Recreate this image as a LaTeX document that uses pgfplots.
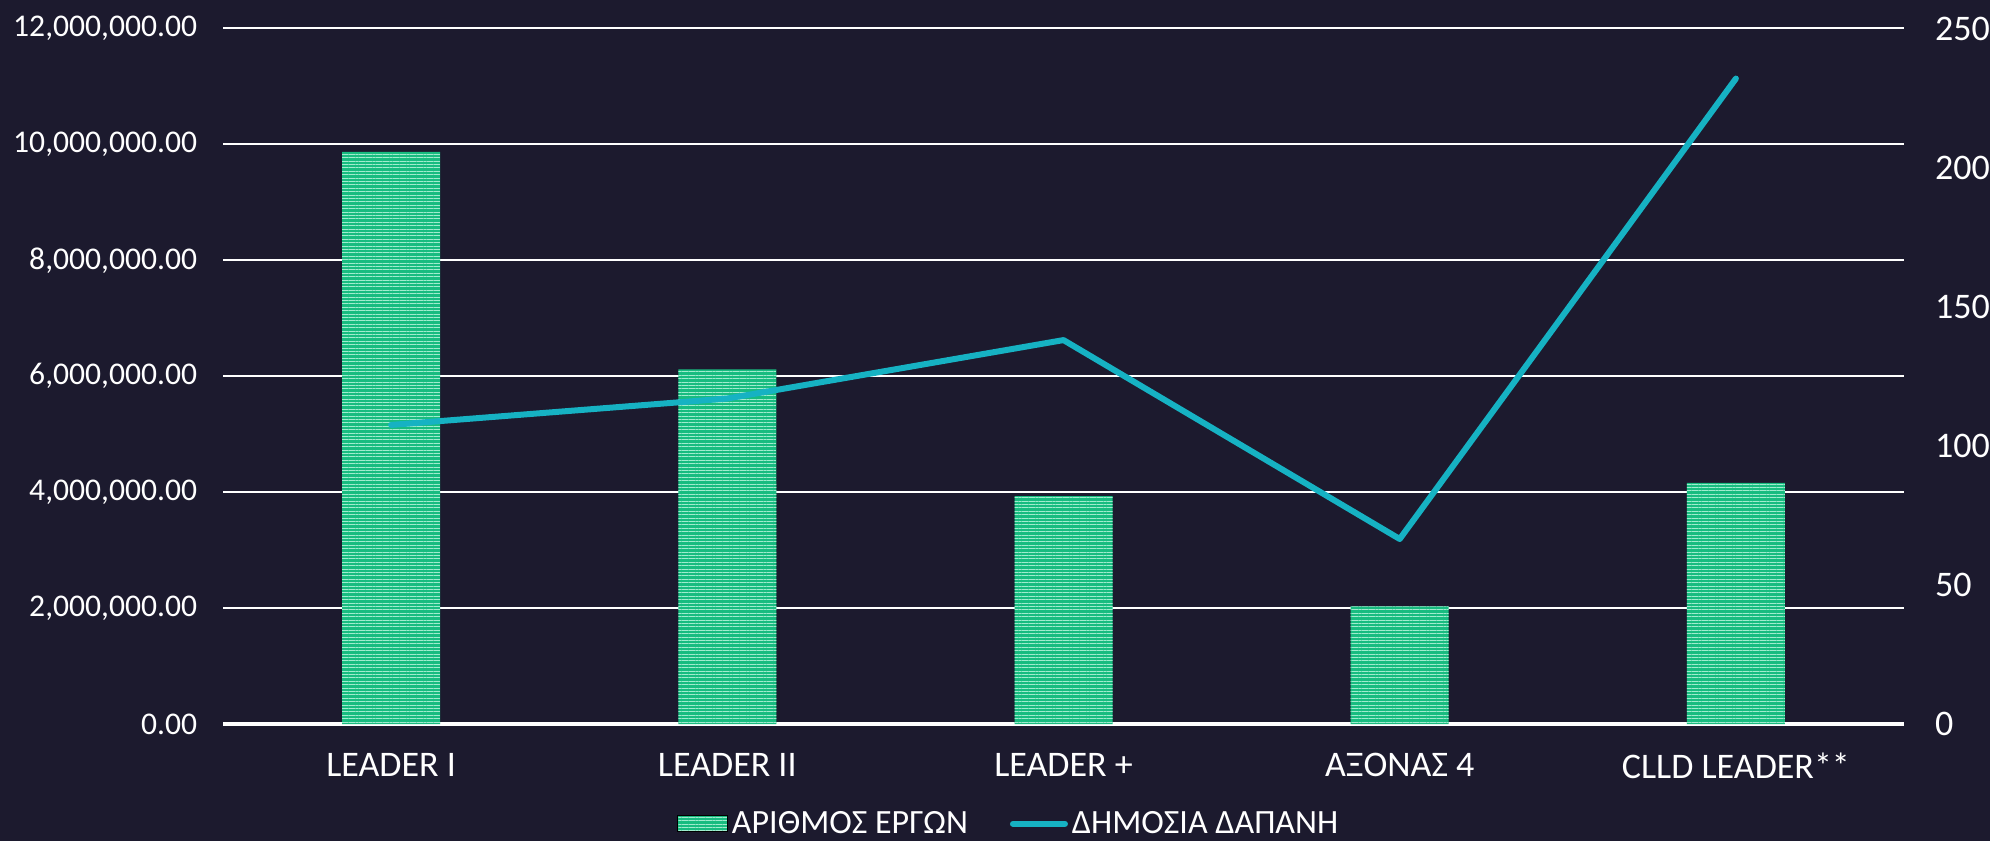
\documentclass[border=0pt]{standalone}
\usepackage{fontspec}
\setmainfont{Carlito}
\usepackage{pgfplots}
\pgfplotsset{compat=1.18}
\usetikzlibrary{patterns.meta}
\definecolor{bg}{RGB}{28,26,46}
\definecolor{barg}{RGB}{24,188,128}
\definecolor{barl}{RGB}{160,236,206}
\definecolor{linec}{RGB}{22,178,195}
\begin{document}
\begin{tikzpicture}
\path[use as bounding box, fill=bg] (0,0) rectangle (995pt,420.5pt);
\begin{axis}[
  at={(111.5pt,58.5pt)}, anchor=south west,
  scale only axis, width=840.5pt, height=347.75pt,
  xmin=-0.5, xmax=4.5, ymin=0, ymax=12000000,
  ytick={0,2000000,4000000,6000000,8000000,10000000,12000000},
  xtick={0,1,2,3,4},
  xticklabels={LEADER I, LEADER II, LEADER +, ΑΞΟΝΑΣ 4, CLLD LEADER**},
  scaled y ticks=false,
  axis x line*=bottom, axis y line*=left,
  x axis line style={white, line width=2pt, -},
  y axis line style={draw=none},
  major tick length=0pt,
  ymajorgrids, grid style={white, line width=1pt},
  /pgf/number format/assume math mode=true,
  yticklabel style={text=white, font=\fontsize{15.8}{19}\selectfont, xshift=-9.4pt,
    /pgf/number format/.cd, fixed, fixed zerofill, precision=2, 1000 sep={,}},
  xticklabel style={text=white, font=\fontsize{18}{21}\selectfont, yshift=-11pt},
]
\addplot[ybar, bar width=49pt, fill=barg, draw=none,
  postaction={pattern={Lines[angle=0,distance=1.7pt,line width=0.32pt]}, pattern color=barl}]
  coordinates {(0,9870000) (1,6120000) (2,3930000) (3,2030000) (4,4160000)};
\end{axis}
\begin{axis}[
  at={(111.5pt,58.5pt)}, anchor=south west,
  scale only axis, width=840.5pt, height=347.75pt,
  xmin=-0.5, xmax=4.5, ymin=0, ymax=250,
  ytick={0,50,100,150,200,250},
  axis x line=none, axis y line*=right,
  y axis line style={draw=none},
  major tick length=0pt,
  /pgf/number format/assume math mode=true,
  yticklabel style={text=white, font=\fontsize{18}{21}\selectfont, xshift=12pt},
  legend columns=2,
  legend style={draw=none, fill=none, text=white, font=\fontsize{17}{20}\selectfont,
    at={(axis description cs:0.468,-0.1435)}, anchor=center,
    /tikz/every even column/.append style={column sep=19pt}},
]
\addlegendimage{legend image code/.code={
  \fill[barg] (0pt,-4pt) rectangle (25pt,4pt);
  \fill[pattern={Lines[angle=0,distance=1.7pt,line width=0.32pt]}, pattern color=barl] (0pt,-4pt) rectangle (25pt,4pt);}}
\addlegendentry{ΑΡΙΘΜΟΣ ΕΡΓΩΝ}
\addplot[linec, line width=3pt, line cap=round, line join=round, mark=none,
  legend image code/.code={\draw[linec, line width=3pt, line cap=round] (0pt,0pt) -- (26pt,0pt);}]
  coordinates {(0,107.5) (1,117) (2,138) (3,66.5) (4,232)};
\addlegendentry{ΔΗΜΟΣΙΑ ΔΑΠΑΝΗ}
\end{axis}
\end{tikzpicture}
\end{document}
